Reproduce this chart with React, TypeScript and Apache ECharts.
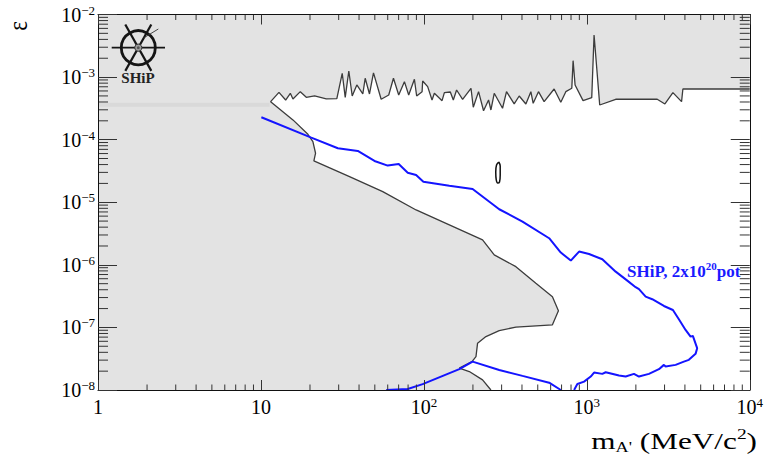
import React, { useEffect, useRef } from 'react';
import * as echarts from 'echarts';

const F = "'Liberation Serif', 'Times New Roman', serif";

// tick labels
const xTickExponents = [0, 1, 2, 3, 4];
const xTickLabels = ['{b|1}', '{b|10}', '{b|10}{s|2}', '{b|10}{s|3}', '{b|10}{s|4}'];
const yTickExponents = [-8, -7, -6, -5, -4, -3, -2];
const yTickLabels = ['{b|10}{s|−8}', '{b|10}{s|−7}', '{b|10}{s|−6}', '{b|10}{s|−5}', '{b|10}{s|−4}', '{b|10}{s|−3}', '{b|10}{s|−2}'];
const minorMultipliers = [2, 3, 4, 5, 6, 7, 8, 9];
const xDecades = [1, 10, 100, 1000];
const yDecades = [1e-8, 1e-7, 1e-6, 1e-5, 1e-4, 1e-3];

// excluded region: upper limit (zig-zag), left to right  [m (MeV), epsilon]
const upperLimit: number[][] = [
  [11.47, 4.05e-4], [12.9, 5.71e-4], [14.18, 4.3e-4], [15.15, 5.51e-4], [15.72, 4.47e-4], [17.44, 5.85e-4],
  [18.98, 4.75e-4], [21.34, 4.99e-4], [25.17, 4.47e-4], [29.23, 4.52e-4], [31.54, 1.15e-3], [32.91, 4.75e-4],
  [34.62, 1.25e-3], [36.32, 4.99e-4], [38.77, 7.48e-4], [42.19, 5.37e-4], [43.63, 9.57e-4], [46.37, 5.37e-4],
  [49.06, 1.17e-3], [54.68, 4.42e-4], [60.86, 5.18e-4], [65.06, 9.57e-4], [70.08, 5.18e-4], [75.96, 8.45e-4],
  [80.7, 5.18e-4], [87.47, 9.23e-4], [90.3, 4.99e-4], [97.5, 5.85e-4], [98.3, 8.67e-4], [105.5, 7.03e-4],
  [112.2, 4.3e-4], [116.0, 5.51e-4], [129.3, 4.2e-4], [133.6, 5.64e-4], [145.3, 5.78e-4], [151.6, 4.3e-4],
  [158.8, 6.22e-4], [172.9, 4.42e-4], [194.6, 6.62e-4], [201.0, 3.3e-4], [216.6, 5.85e-4], [232.4, 2.9e-4],
  [249.5, 4.3e-4], [257.9, 2.98e-4], [270.3, 5.51e-4], [303.9, 3.18e-4], [321.5, 5.85e-4], [358.4, 3.72e-4],
  [384.6, 4.99e-4], [422.7, 3.72e-4], [453.6, 5.85e-4], [468.6, 3.81e-4], [505.0, 5.85e-4], [547.1, 4.05e-4],
  [630.1, 6.45e-4], [692.4, 3.96e-4], [743.2, 5.85e-4], [808.8, 6.62e-4], [823.8, 1.83e-3], [847.3, 7.48e-4],
  [948.4, 4.2e-4], [1072, 4.69e-4], [1108, 4.71e-3], [1200, 3.58e-4], [1504, 4.42e-4], [2705, 4.42e-4],
  [3015, 3.72e-4], [3376, 5.64e-4], [3815, 4.05e-4], [3887, 6.45e-4], [10000, 6.45e-4],
];

// excluded region: lower limit, from the corner downwards
const lowerLimit: number[][] = [
  [11.47, 4.05e-4], [15.72, 2.07e-4], [19.42, 1.22e-4], [20.84, 9.29e-5], [21.64, 6.07e-5], [21.13, 4.57e-5],
  [34.96, 2.56e-5], [55.93, 1.48e-5], [89.6, 7.53e-6], [143.3, 4.34e-6], [229.2, 2.5e-6], [270.3, 1.44e-6],
  [367.1, 9.35e-7], [486.8, 5.08e-7], [615.2, 3.1e-7], [669.6, 1.85e-7], [615.2, 1.1e-7], [367.1, 1.01e-7],
  [290.0, 8.89e-8], [240.4, 7.13e-8], [213.6, 5.6e-8], [208.8, 3.42e-8], [197.4, 2.84e-8], [165.0, 2.23e-8],
  [190.0, 1.97e-8], [229.2, 1.45e-8], [257.9, 1e-8],
];

const plotCorners: number[][] = [[1, 1e-2], [10000, 1e-2], [1, 1e-8]];

// SHiP sensitivity, 2x10^20 pot
const shipMain: number[][] = [
  [10.06, 2.28e-4], [20.37, 1.08e-4], [29.65, 7.3e-5], [39.31, 6.6e-5], [49.76, 4.57e-5], [60.0, 3.85e-5],
  [70.08, 4.09e-5], [79.6, 2.97e-5], [89.6, 2.73e-5], [99.3, 2.13e-5], [143.3, 1.84e-5], [199.1, 1.63e-5],
  [290.0, 7.73e-6], [402.9, 4.9e-6], [587.3, 2.66e-6], [692.4, 1.57e-6], [797.6, 1.17e-6], [896.6, 1.63e-6],
  [1032, 1.49e-6], [1245, 1.23e-6], [1504, 7.78e-7], [1772, 5.6e-7], [1994, 4.39e-7], [2090, 4.08e-7],
  [2297, 3.1e-7], [2521, 2.82e-7], [2973, 2.2e-7], [3376, 1.9e-7], [3673, 1.35e-7], [4038, 9.12e-8],
  [4333, 7.13e-8], [4475, 7.31e-8], [4756, 4.66e-8], [4650, 3.78e-8], [4229, 3.03e-8], [3942, 2.84e-8],
  [3507, 2.52e-8], [3045, 2.37e-8], [2973, 2.52e-8], [2771, 2.15e-8], [2406, 1.81e-8], [2090, 1.64e-8],
  [1947, 1.81e-8], [1732, 1.64e-8], [1576, 1.7e-8], [1306, 1.92e-8], [1245, 1.81e-8], [1108, 1.9e-8],
  [1057, 1.64e-8], [962, 1.36e-8], [875, 1.25e-8], [835.5, 1e-8],
];
const shipLow: number[][] = [
  [58.7, 1e-8], [79.6, 1.04e-8], [98.3, 1.24e-8], [165.0, 2.15e-8], [199.1, 2.84e-8], [290.0, 2.09e-8],
  [402.9, 1.68e-8], [587.3, 1.31e-8], [692.4, 1e-8],
];

// small closed contour near 290 MeV
const smallIsland: number[][] = [
  [288.0, 4.4e-5], [294.1, 3.8e-5], [294.1, 2.73e-5], [291.2, 2.11e-5], [283.9, 2.03e-5], [278.1, 2.27e-5],
  [276.1, 3.05e-5], [279.2, 3.94e-5], [288.0, 4.4e-5],
];

// faint band along the left
const faintBand: number[][] = [[1, 3.6e-4], [11.3, 3.6e-4]];

export default function App() {
  const ref = useRef<HTMLDivElement>(null);
  useEffect(() => {
    if (!ref.current) return;
    const chart = echarts.init(ref.current, null, { renderer: 'svg' });

    const boundary = [...upperLimit].reverse().concat(lowerLimit.slice(1));
    const grayRegion = [plotCorners[0], plotCorners[1], ...boundary, plotCorners[2]];
    const xMinor = xDecades.flatMap((d) => minorMultipliers.map((k) => [k * d, 1e-8]));
    const yMinor = yDecades.flatMap((d) => minorMultipliers.map((k) => [1, k * d]));

    const rich = {
      b: { fontSize: 20, fontFamily: F, lineHeight: 22, color: '#000' },
      s: { fontSize: 13, fontFamily: F, lineHeight: 12, verticalAlign: 'top', color: '#000' },
    };
    const xFmt = (v: number) => {
      const i = xTickExponents.indexOf(Math.round(Math.log10(v)));
      return i >= 0 ? xTickLabels[i] : '';
    };
    const yFmt = (v: number) => {
      const i = yTickExponents.indexOf(Math.round(Math.log10(v)));
      return i >= 0 ? yTickLabels[i] : '';
    };
    const axisLine = { show: true, lineStyle: { color: '#111', width: 1 } };
    const xTick = { show: true, inside: true, length: 10, lineStyle: { color: '#333', width: 1 } };
    const yTick = { show: true, inside: true, length: 19, lineStyle: { color: '#333', width: 1 } };
    const ink = '#151515';

    chart.setOption({
      animation: false,
      backgroundColor: '#ffffff',
      grid: { left: 98, right: 15, top: 14.5, bottom: 69 },
      xAxis: [
        {
          type: 'log', logBase: 10, min: 1, max: 10000, position: 'bottom', z: 10,
          axisLine, axisTick: xTick, splitLine: { show: false }, minorTick: { show: false },
          axisLabel: { formatter: xFmt, rich, margin: 6, color: '#000' },
        },
        {
          type: 'log', logBase: 10, min: 1, max: 10000, position: 'top', z: 10,
          axisLine, axisTick: xTick, axisLabel: { show: false }, splitLine: { show: false },
        },
      ],
      yAxis: [
        {
          type: 'log', logBase: 10, min: 1e-8, max: 1e-2, position: 'left', z: 10,
          axisLine, axisTick: yTick, splitLine: { show: false },
          axisLabel: { formatter: yFmt, rich, margin: 3, color: '#000' },
        },
        {
          type: 'log', logBase: 10, min: 1e-8, max: 1e-2, position: 'right', z: 10,
          axisLine, axisTick: yTick, axisLabel: { show: false }, splitLine: { show: false },
        },
      ],
      graphic: [
        {
          type: 'text', x: 18, y: 26, rotation: Math.PI / 2, scaleY: 1.15, z: 20,
          style: { text: 'ε', font: `23px ${F}`, fill: '#000', align: 'center', verticalAlign: 'middle' },
        },
        {
          type: 'text', x: 757, y: 441, scaleX: 1.3, z: 20,
          style: {
            text: "{a|m}{sub|A'}{a| (MeV/c}{sup|2}{a|)}", align: 'right', verticalAlign: 'middle',
            rich: {
              a: { fontSize: 24, fontFamily: F, lineHeight: 28, fill: '#000' },
              sub: { fontSize: 14, fontFamily: F, lineHeight: 14, verticalAlign: 'bottom', fill: '#000' },
              sup: { fontSize: 15, fontFamily: F, lineHeight: 14, verticalAlign: 'top', fill: '#000' },
            },
          },
        },
        { type: 'circle', z: 20, shape: { cx: 138.3, cy: 47.7, r: 17 }, style: { fill: 'none', stroke: ink, lineWidth: 2.8 } },
        { type: 'line', z: 20, shape: { x1: 111.7, y1: 47.7, x2: 165, y2: 47.7 }, style: { stroke: ink, lineWidth: 1.7 } },
        { type: 'line', z: 20, shape: { x1: 125.3, y1: 24.5, x2: 151.3, y2: 70.9 }, style: { stroke: ink, lineWidth: 2.2 } },
        { type: 'line', z: 20, shape: { x1: 151.3, y1: 24.5, x2: 125.3, y2: 70.9 }, style: { stroke: ink, lineWidth: 2.2 } },
        { type: 'line', z: 20, shape: { x1: 143.5, y1: 38, x2: 158.3, y2: 29 }, style: { stroke: '#333', lineWidth: 0.9 } },
        { type: 'circle', z: 21, shape: { cx: 138.3, cy: 47.7, r: 3.6 }, style: { fill: '#9a9a9a', stroke: '#333', lineWidth: 1 } },
        { type: 'circle', z: 22, shape: { cx: 138.3, cy: 47.7, r: 1.4 }, style: { fill: '#555', stroke: 'none' } },
        {
          type: 'text', x: 138, y: 78, z: 20,
          style: { text: 'SHiP', font: `bold 15px ${F}`, fill: '#222', align: 'center', verticalAlign: 'middle' },
        },
        {
          type: 'text', x: 627, y: 271, z: 20,
          style: {
            text: '{a|SHiP, 2x10}{s|20}{a|pot}', align: 'left', verticalAlign: 'middle',
            rich: {
              a: { fontSize: 17, fontWeight: 'bold', fontFamily: F, lineHeight: 21, fill: '#1a1aff' },
              s: { fontSize: 11, fontWeight: 'bold', fontFamily: F, lineHeight: 11, verticalAlign: 'top', fill: '#1a1aff' },
            },
          },
        },
      ],
      series: [
        {
          type: 'custom', name: 'excluded', coordinateSystem: 'cartesian2d', data: grayRegion, z: 1,
          encode: { x: 0, y: 1 }, silent: true,
          renderItem: (params: any, api: any) => {
            if (params.dataIndex !== 0) return null;
            const pts = grayRegion.map((p) => api.coord(p));
            return { type: 'polygon', shape: { points: pts }, style: { fill: '#e3e3e3', stroke: 'none' } };
          },
        },
        {
          type: 'line', name: 'band', data: faintBand, showSymbol: false, z: 2, silent: true,
          lineStyle: { color: '#d9d9d9', width: 4 },
        },
        {
          type: 'line', name: 'excluded boundary', data: boundary, showSymbol: false, z: 3, silent: true,
          lineStyle: { color: '#3c3c3c', width: 1.3 },
        },
        {
          type: 'line', name: 'island', data: smallIsland, showSymbol: false, smooth: 0.4, z: 3, silent: true,
          lineStyle: { color: '#111', width: 1.5 },
        },
        {
          type: 'line', name: 'SHiP', data: shipMain, showSymbol: false, z: 4, silent: true,
          lineStyle: { color: '#1414ff', width: 2 },
        },
        {
          type: 'line', name: 'SHiP low', data: shipLow, showSymbol: false, z: 4, silent: true,
          lineStyle: { color: '#1414ff', width: 2 },
        },
        {
          type: 'custom', name: 'x minor ticks', coordinateSystem: 'cartesian2d', data: xMinor, z: 9,
          encode: { x: 0, y: 1 }, silent: true,
          renderItem: (params: any, api: any) => {
            const v = api.value(0);
            const b = api.coord([v, 1e-8]);
            const t = api.coord([v, 1e-2]);
            return {
              type: 'group',
              children: [
                { type: 'line', shape: { x1: b[0], y1: b[1], x2: b[0], y2: b[1] - 5.5 }, style: { stroke: '#333', lineWidth: 1 } },
                { type: 'line', shape: { x1: t[0], y1: t[1], x2: t[0], y2: t[1] + 5.5 }, style: { stroke: '#333', lineWidth: 1 } },
              ],
            };
          },
        },
        {
          type: 'custom', name: 'y minor ticks', coordinateSystem: 'cartesian2d', data: yMinor, z: 9,
          encode: { x: 0, y: 1 }, silent: true,
          renderItem: (params: any, api: any) => {
            const v = api.value(1);
            const l = api.coord([1, v]);
            const r = api.coord([10000, v]);
            return {
              type: 'group',
              children: [
                { type: 'line', shape: { x1: l[0], y1: l[1], x2: l[0] + 10, y2: l[1] }, style: { stroke: '#333', lineWidth: 1 } },
                { type: 'line', shape: { x1: r[0], y1: r[1], x2: r[0] - 10, y2: r[1] }, style: { stroke: '#333', lineWidth: 1 } },
              ],
            };
          },
        },
      ],
    });
    return () => chart.dispose();
  }, []);
  return <div ref={ref} style={{ position: 'fixed', left: 0, top: 0, width: 766, height: 459 }} />;
}
